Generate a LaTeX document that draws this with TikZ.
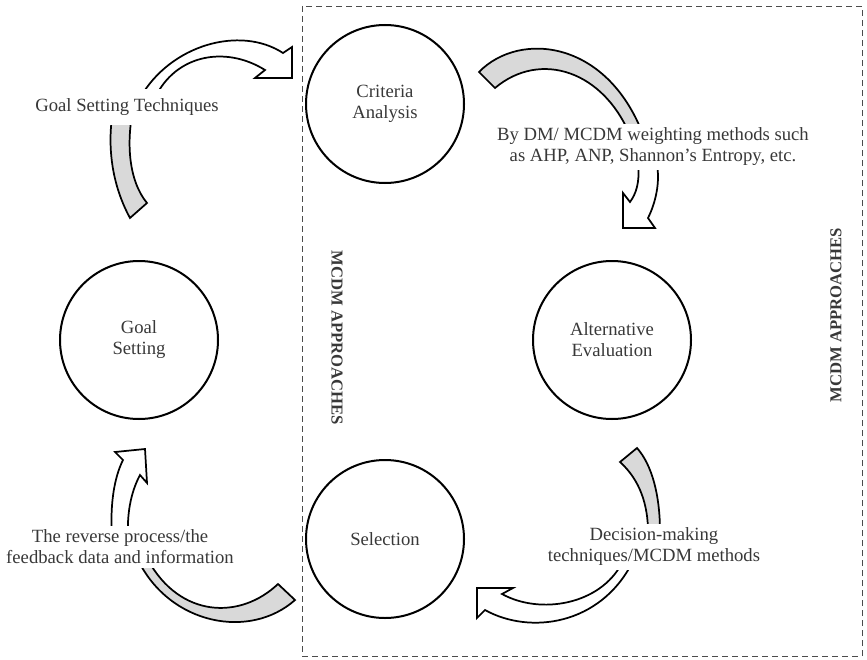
\documentclass[tikz,border=0pt]{standalone}
\usepackage{fontspec}
\setmainfont{Liberation Serif}
\begin{document}
\begin{tikzpicture}[x=0.75pt,y=-0.75pt,
  txt/.style={text=black!78, font=\fontsize{14}{15.75}\selectfont, align=center},
  circ/.style={txt, circle, draw=black, line width=1.5pt, minimum size=118.5pt, inner sep=0pt},
  lab/.style={txt, fill=white, inner xsep=2pt},
  band/.style={draw=black, line width=1.3pt, line join=miter},
  shade/.style={band, fill=black!15},
  vert/.style={font=\fontsize{12.5}{14}\selectfont\bfseries, text=black!78}
]
\useasboundingbox (0,0) rectangle (867,660);
\draw[line width=0.6pt, draw=black!70, dash pattern=on 4.5pt off 3pt] (302,6) rectangle (862,656);

% arrow 1: Goal Setting -> Criteria Analysis
\filldraw[shade] (130,218) .. controls (112,185) and (106,145) .. (114,105) -- (134,105) .. controls (126,140) and (128,180) .. (147,203) -- cycle;
\filldraw[band, fill=white] (140,98) .. controls (170,45) and (240,25) .. (283,53) -- (292,47) -- (292,78) -- (255,78) -- (265,70) .. controls (225,45) and (175,55) .. (155,98) -- cycle;

% arrow 2: Criteria Analysis -> Alternative Evaluation
\filldraw[shade] (479,72) .. controls (520,30) and (610,40) .. (645,140) -- (632,140) .. controls (605,70) and (540,50) .. (495,88) -- cycle;
\filldraw[band, fill=white] (638,165) .. controls (640,182) and (636,194) .. (630,202) -- (623,193) -- (623,228) -- (655,228) -- (648,218) .. controls (656,202) and (660,182) .. (657,165) -- cycle;

% arrow 3: Alternative Evaluation -> Selection
\filldraw[shade] (620,462) .. controls (640,480) and (648,505) .. (648,532) -- (660,532) .. controls (660,495) and (652,465) .. (637,448) -- cycle;
\filldraw[band, fill=white] (632,563) .. controls (600,625) and (530,635) .. (485,610) -- (477,618) -- (477,588) -- (513,588) -- (502,594) .. controls (540,615) and (600,605) .. (622,563) -- cycle;

% arrow 4: Selection -> Goal Setting
\filldraw[shade] (295,600) .. controls (250,640) and (170,625) .. (138,560) -- (148,560) .. controls (180,618) and (240,620) .. (278,584) -- cycle;
\filldraw[band, fill=white] (112,535) .. controls (110,505) and (114,478) .. (123,460) -- (115,452) -- (145,449) -- (147,483) -- (140,475) .. controls (132,490) and (127,510) .. (128,535) -- cycle;

% labels
\node[lab, inner ysep=7pt] (l1) at (127,107) {Goal Setting Techniques};
\node[lab, inner ysep=3pt] (l2) at (653,147) {By DM/ MCDM weighting methods such\\as AHP, ANP, Shannon’s Entropy, etc.};
\node[lab, inner ysep=3pt] (l3) at (654,547) {Decision-making\\techniques/MCDM methods};
\node[lab, inner ysep=3pt] (l4) at (120,547) {The reverse process/the\\feedback data and information};

% circles
\node[circ] (ca) at (385,104) {Criteria\\Analysis};
\node[circ] (gs) at (139,340) {Goal\\Setting};
\node[circ] (ae) at (612,340) {Alternative\\Evaluation};
\node[circ] (se) at (385,539) {Selection};

% vertical titles
\node[vert, rotate=-90] (v1) at (337,338) {MCDM APPROACHES};
\node[vert, rotate=90] (v2) at (836,315) {MCDM APPROACHES};
\end{tikzpicture}
\end{document}
